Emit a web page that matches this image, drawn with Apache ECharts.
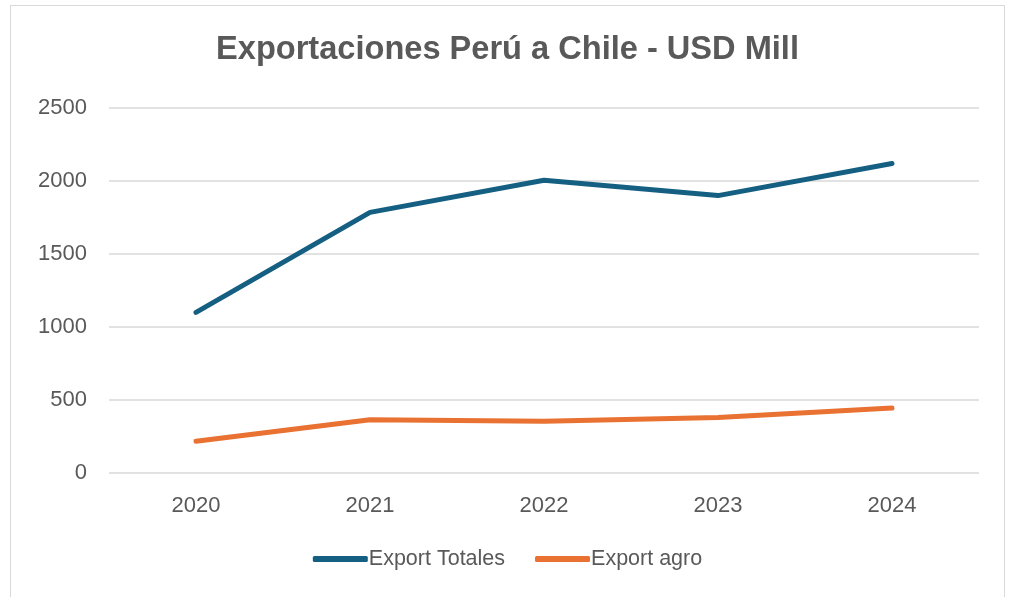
<!DOCTYPE html>
<html>
<head>
<meta charset="utf-8">
<script src="https://cdn.jsdelivr.net/npm/echarts@6/dist/echarts.min.js"></script>
<style>
  html, body { margin: 0; padding: 0; background: #ffffff; }
  #frame { position: absolute; left: 10px; top: 5px; width: 995px; height: 600px; border: 1px solid #d9d9d9; box-sizing: border-box; }
  #chart { position: absolute; left: 0; top: 0; width: 1015px; height: 597px; }
</style>
</head>
<body>
<div id="frame"></div>
<div id="chart"></div>
<script>
// Export figures, USD millions
const years = ['2020', '2021', '2022', '2023', '2024'];
const exportTotales = [1100, 1785, 2005, 1900, 2120];
const exportAgro = [218, 365, 355, 380, 445];
const yTicks = [0, 500, 1000, 1500, 2000, 2500];

const FONT = 'Liberation Sans, Arial, sans-serif';
const chart = echarts.init(document.getElementById('chart'), null, { renderer: 'canvas' });

chart.setOption({
  backgroundColor: 'transparent',
  animation: false,
  title: {
    text: 'Exportaciones Perú a Chile - USD Mill',
    left: 'center',
    top: 29,
    textStyle: { fontFamily: FONT, fontSize: 32.6, fontWeight: 'bold', color: '#595959' }
  },
  legend: {
    bottom: 22,
    left: 'center',
    itemWidth: 55,
    itemHeight: 6,
    itemGap: 30,
    icon: 'roundRect',
    textStyle: { fontFamily: FONT, fontSize: 21.5, color: '#595959', padding: [0, 0, 0, -4] },
    data: ['Export Totales', 'Export agro']
  },
  grid: { left: 109, right: 36, top: 108, bottom: 124, containLabel: false },
  xAxis: {
    type: 'category',
    data: years,
    boundaryGap: true,
    axisLine: { show: false },
    axisTick: { show: false },
    axisLabel: { fontFamily: FONT, fontSize: 22, color: '#595959', margin: 22 }
  },
  yAxis: {
    type: 'value',
    min: yTicks[0],
    max: yTicks[yTicks.length - 1],
    interval: yTicks[1] - yTicks[0],
    axisLine: { show: false },
    axisTick: { show: false },
    axisLabel: { fontFamily: FONT, fontSize: 22, color: '#595959', margin: 22, formatter: v => String(v) },
    splitLine: { lineStyle: { color: '#d9d9d9', width: 1.5 } }
  },
  series: [
    {
      name: 'Export Totales',
      type: 'line',
      data: exportTotales,
      symbol: 'none',
      color: '#156082',
      lineStyle: { width: 5, color: '#156082', cap: 'round', join: 'round' }
    },
    {
      name: 'Export agro',
      type: 'line',
      data: exportAgro,
      symbol: 'none',
      color: '#E97132',
      lineStyle: { width: 5, color: '#E97132', cap: 'round', join: 'round' }
    }
  ]
});
</script>
</body>
</html>
